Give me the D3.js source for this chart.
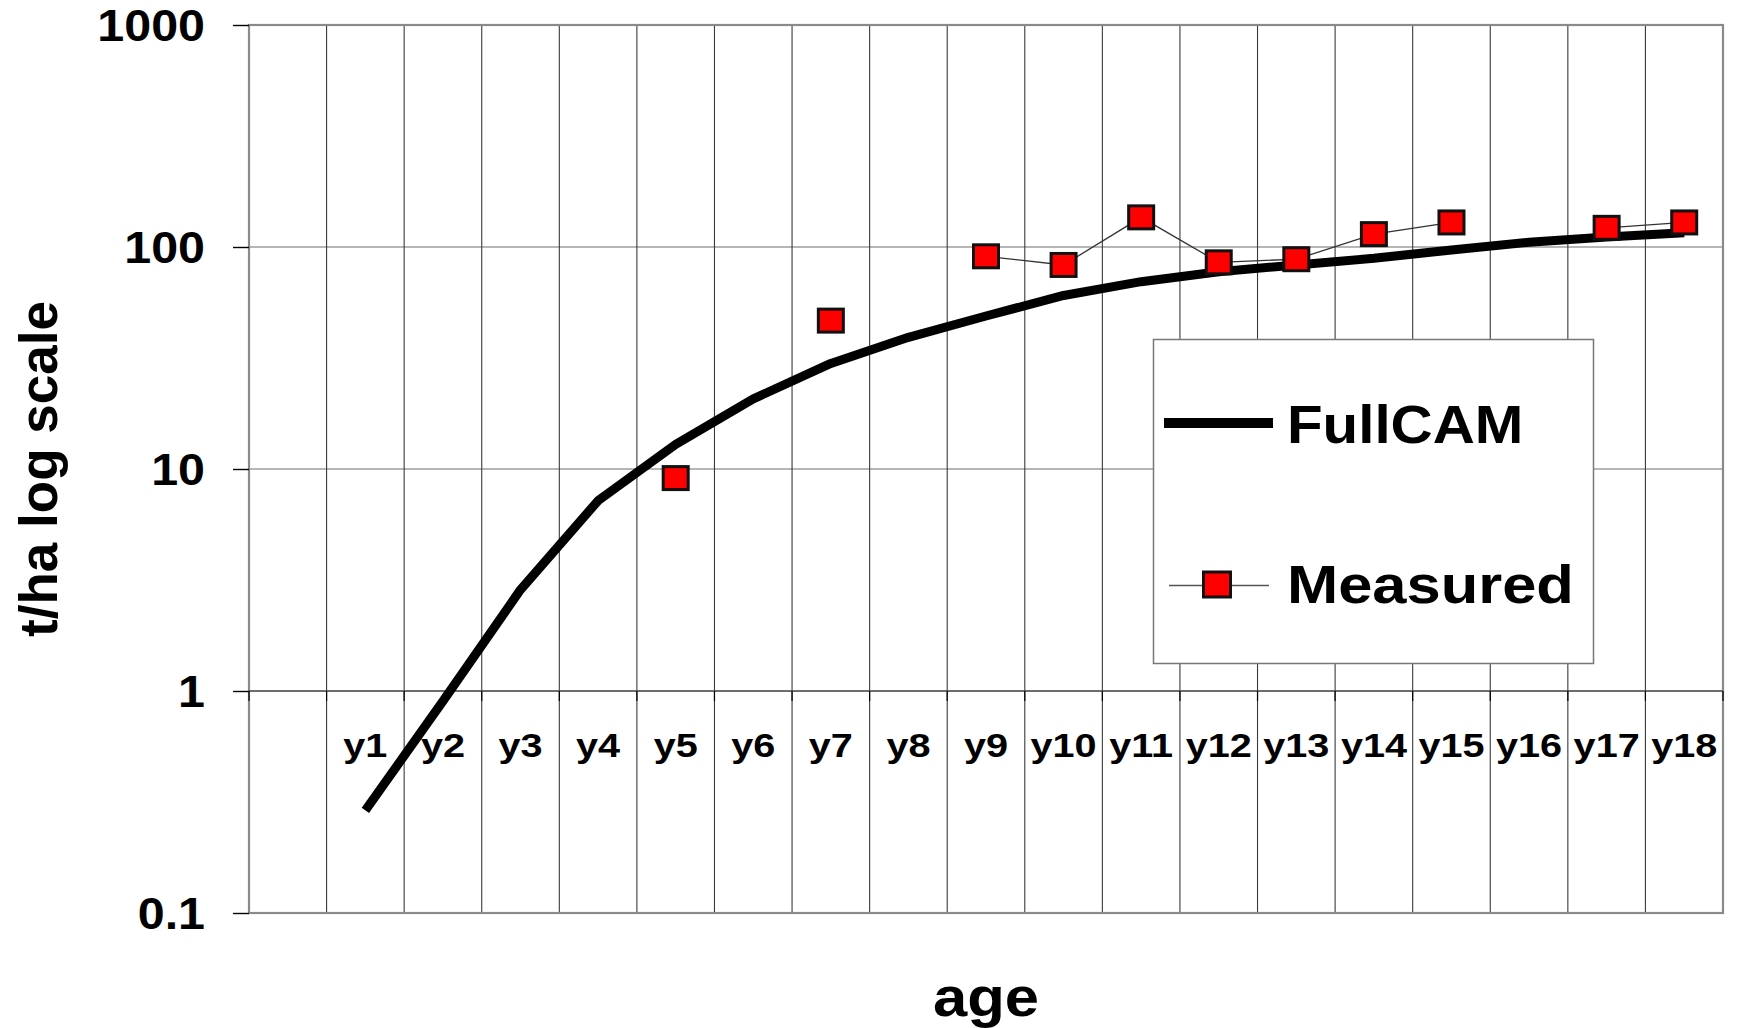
<!DOCTYPE html>
<html>
<head>
<meta charset="utf-8">
<script src="https://cdn.jsdelivr.net/npm/d3@7"></script>
<style>
  html, body { margin: 0; padding: 0; background: #fff; }
  svg text { font-family: "Liberation Sans", Arial, sans-serif; font-weight: bold; fill: #000; }
</style>
</head>
<body>
<div id="chart"></div>
<script>
// categories on the x axis (first band is empty)
const ages = ["", "y1", "y2", "y3", "y4", "y5", "y6", "y7", "y8", "y9",
  "y10", "y11", "y12", "y13", "y14", "y15", "y16", "y17", "y18"];

// t/ha
const fullcam = [null, 0.29, 0.9, 2.86, 7.2, 12.9, 20.7, 29.9, 39.2, 48.9,
  60.5, 69.8, 77.4, 83, 88.9, 97, 105, 111, 116];
const measured = [null, null, null, null, null, 9.1, null, 46.6, null, 90.8,
  83, 136, 85.3, 88.1, 114.3, 129, null, 122, 129];

const yTicks = [0.1, 1, 10, 100, 1000];
const seriesNames = ["FullCAM", "Measured"];

const W = 1738, H = 1028;
const margin = { top: 25, right: 15, bottom: 115, left: 249 };
const width = W - margin.left - margin.right;
const height = H - margin.top - margin.bottom;

const root = d3.select("#chart").append("svg")
  .attr("width", W)
  .attr("height", H);

const svg = root.append("g")
  .attr("transform", `translate(${margin.left},${margin.top})`);

const x = d3.scaleBand().domain(ages).range([0, width]).padding(0);
const y = d3.scaleLog().domain([0.1, 1000]).range([height, 0]);
const bw = x.bandwidth();
const cx = (i) => x(ages[i]) + bw / 2;

// horizontal gridlines
svg.append("g")
  .selectAll("line")
  .data(yTicks)
  .join("line")
  .attr("x1", 0).attr("x2", width)
  .attr("y1", d => y(d)).attr("y2", d => y(d))
  .attr("stroke", "#6e6e6e")
  .attr("stroke-width", 1.2);

// vertical gridlines at band boundaries
const bounds = ages.map(a => x(a)).concat([width]);
svg.append("g")
  .selectAll("line")
  .data(bounds.slice(1, -1))
  .join("line")
  .attr("x1", d => d).attr("x2", d => d)
  .attr("y1", 0).attr("y2", height)
  .attr("stroke", "#3a3a3a")
  .attr("stroke-width", 1.1);

// plot border
svg.append("rect")
  .attr("x", 0).attr("y", 0)
  .attr("width", width).attr("height", height)
  .attr("fill", "none")
  .attr("stroke", "#8a8a8a")
  .attr("stroke-width", 2.2);

// category axis crossing at 1
const y1 = y(1);
svg.append("line")
  .attr("x1", 0).attr("x2", width)
  .attr("y1", y1).attr("y2", y1)
  .attr("stroke", "#555")
  .attr("stroke-width", 1.4);
svg.append("g")
  .selectAll("line")
  .data(bounds)
  .join("line")
  .attr("x1", d => d).attr("x2", d => d)
  .attr("y1", y1).attr("y2", y1 + 10)
  .attr("stroke", "#000")
  .attr("stroke-width", 1.2);

svg.append("g")
  .selectAll("text")
  .data(ages.filter(a => a !== ""))
  .join("text")
  .attr("text-anchor", "middle")
  .attr("transform", d => `translate(${x(d) + bw / 2},${y1 + 66}) scale(1.2,1)`)
  .style("font-size", "33px")
  .text(d => d);

// value axis
const yAxis = svg.append("g")
  .call(d3.axisLeft(y).tickValues(yTicks).tickFormat(d => String(d)).tickSize(16));
yAxis.select(".domain").remove();
yAxis.selectAll(".tick line").attr("stroke", "#000").attr("stroke-width", 1.4);
yAxis.selectAll(".tick text")
  .attr("x", null)
  .attr("dy", "0.36em")
  .attr("fill", "#000")
  .attr("transform", "translate(-44,0) scale(1.1,1)")
  .style("font-size", "44px")
  .style("font-family", "'Liberation Sans', Arial, sans-serif")
  .style("font-weight", "bold");

// FullCAM line
const line = d3.line()
  .defined(d => d != null)
  .x((d, i) => cx(i))
  .y(d => y(d));

svg.append("path")
  .datum(fullcam)
  .attr("fill", "none")
  .attr("stroke", "#000")
  .attr("stroke-width", 9)
  .attr("stroke-linejoin", "round")
  .attr("d", line);

// Measured series
svg.append("path")
  .datum(measured)
  .attr("fill", "none")
  .attr("stroke", "#333")
  .attr("stroke-width", 1.3)
  .attr("d", line);

const mw = 25, mh = 23;
svg.append("g")
  .selectAll("rect")
  .data(measured.map((v, i) => ({ v, i })).filter(d => d.v != null))
  .join("rect")
  .attr("x", d => cx(d.i) - mw / 2)
  .attr("y", d => y(d.v) - mh / 2)
  .attr("width", mw)
  .attr("height", mh)
  .attr("fill", "#ff0000")
  .attr("stroke", "#111")
  .attr("stroke-width", 3);

// axis titles
root.append("text")
  .attr("text-anchor", "middle")
  .attr("transform", `translate(57,${margin.top + height / 2}) rotate(-90)`)
  .style("font-size", "53px")
  .text("t/ha log scale");

root.append("text")
  .attr("text-anchor", "middle")
  .attr("transform", `translate(${margin.left + width / 2},1016) scale(1.1,1)`)
  .style("font-size", "56px")
  .text("age");

// legend
const legend = root.append("g");
legend.append("rect")
  .attr("x", 1153.5).attr("y", 339.5)
  .attr("width", 440).attr("height", 324)
  .attr("fill", "#fff")
  .attr("stroke", "#777")
  .attr("stroke-width", 1.5);

legend.append("line")
  .attr("x1", 1164).attr("x2", 1273)
  .attr("y1", 423).attr("y2", 423)
  .attr("stroke", "#000")
  .attr("stroke-width", 10);

legend.append("line")
  .attr("x1", 1169).attr("x2", 1269)
  .attr("y1", 585.5).attr("y2", 585.5)
  .attr("stroke", "#555")
  .attr("stroke-width", 1.3);
legend.append("rect")
  .attr("x", 1203.5).attr("y", 572)
  .attr("width", 27).attr("height", 25)
  .attr("fill", "#ff0000")
  .attr("stroke", "#111")
  .attr("stroke-width", 3);

legend.append("text")
  .attr("transform", "translate(1287,443) scale(1.1,1)")
  .style("font-size", "53px")
  .text(seriesNames[0]);

legend.append("text")
  .attr("transform", "translate(1287,602.5) scale(1.16,1)")
  .style("font-size", "53px")
  .text(seriesNames[1]);
</script>
</body>
</html>
